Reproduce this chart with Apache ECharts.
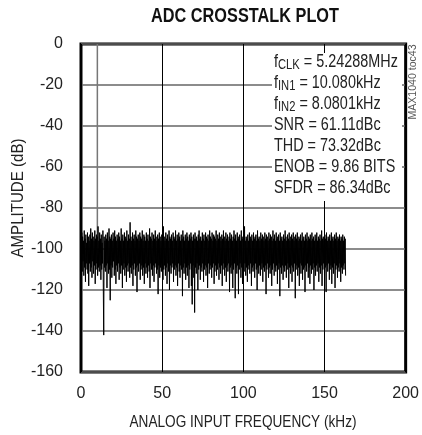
<!DOCTYPE html>
<html>
<head>
<meta charset="utf-8">
<script src="https://cdn.jsdelivr.net/npm/echarts@6/dist/echarts.min.js"></script>
<style>
html, body { margin: 0; padding: 0; background: #fff; }
#chart { width: 422px; height: 435px; }
</style>
</head>
<body>
<div id="chart"></div>
<script>
// FFT amplitude (dB), one bin every 0.25 kHz from 0 to 163 kHz
var noiseStep = 0.25;
var noiseDb = [
  -95,-108,-92,-111,-94,-106,-96,-113,-91,-109,-95,-116,-93,-107,-97,-110,-92,-112,-94,-118,
  -96,-107,-93,-111,-90,-109,-95,-114,-92,-106,-94,-112,-96,-108,-91,-117,-95,-110,-93,-107,
  -94,-113,-89,-109,-96,-111,-92,-108,-95,-115,-93,-110,-97,-107,-91,-120,-142,-94,-109,-96,
  -111,-93,-108,-95,-119,-92,-107,-96,-112,-90,-110,-94,-125,-95,-108,-93,-114,-96,-109,-92,
  -106,-95,-113,-91,-110,-94,-117,-96,-108,-93,-111,-95,-107,-92,-115,-94,-109,-96,-112,-90,
  -108,-95,-119,-93,-110,-96,-107,-92,-113,-94,-109,-95,-116,-91,-108,-96,-111,-93,-107,-95,
  -114,-87,-109,-94,-112,-96,-108,-92,-118,-95,-110,-93,-107,-96,-113,-91,-109,-94,-121,-95,
  -108,-93,-111,-96,-107,-92,-115,-94,-110,-95,-108,-91,-113,-96,-109,-93,-117,-94,-107,-96,
  -112,-92,-109,-95,-114,-93,-108,-96,-111,-90,-119,-94,-107,-95,-110,-92,-113,-96,-108,-93,
  -116,-95,-109,-91,-107,-94,-112,-96,-110,-93,-122,-95,-108,-92,-114,-94,-109,-96,-111,-93,
  -107,-95,-115,-89,-110,-94,-108,-96,-113,-92,-109,-95,-117,-93,-107,-96,-111,-91,-120,-94,
  -108,-95,-112,-93,-109,-96,-107,-92,-116,-94,-110,-95,-108,-91,-113,-96,-109,-93,-118,-95,
  -107,-92,-111,-94,-114,-96,-108,-93,-110,-95,-123,-91,-109,-94,-112,-96,-107,-93,-115,-95,
  -109,-92,-113,-94,-108,-96,-119,-93,-110,-95,-107,-92,-118,-94,-127,-96,-108,-93,-114,-95,
  -131,-92,-109,-95,-112,-94,-107,-96,-120,-93,-110,-91,-108,-95,-115,-94,-109,-96,-111,-92,
  -107,-95,-116,-93,-110,-96,-108,-92,-113,-94,-109,-95,-119,-93,-107,-96,-112,-91,-110,-94,
  -108,-95,-114,-92,-109,-96,-107,-93,-117,-94,-111,-95,-108,-91,-113,-96,-110,-93,-107,-95,
  -115,-92,-109,-94,-112,-96,-108,-93,-118,-95,-110,-91,-107,-94,-113,-96,-109,-92,-116,-95,
  -108,-93,-111,-96,-107,-94,-121,-92,-109,-95,-112,-93,-108,-96,-119,-94,-110,-91,-107,-95,
  -124,-93,-109,-96,-112,-92,-108,-95,-122,-94,-110,-93,-107,-96,-114,-91,-109,-95,-117,-94,
  -108,-92,-111,-89,-107,-96,-113,-94,-109,-95,-116,-93,-108,-96,-110,-92,-112,-94,-107,-95,
  -118,-93,-109,-96,-111,-92,-108,-95,-114,-94,-107,-93,-110,-96,-120,-91,-109,-95,-112,-94,
  -108,-96,-113,-92,-110,-95,-107,-93,-116,-94,-109,-96,-111,-92,-108,-95,-122,-93,-110,-94,
  -107,-96,-114,-92,-109,-95,-112,-93,-108,-94,-118,-96,-110,-91,-107,-95,-113,-93,-109,-96,
  -111,-92,-108,-95,-117,-94,-110,-93,-107,-96,-123,-92,-109,-95,-112,-94,-108,-96,-115,-93,
  -109,-95,-111,-91,-108,-94,-114,-96,-110,-93,-107,-95,-119,-92,-109,-96,-112,-94,-108,-93,
  -116,-95,-109,-92,-111,-96,-107,-94,-124,-93,-110,-95,-108,-92,-113,-96,-109,-94,-118,-95,
  -107,-93,-112,-96,-108,-92,-115,-95,-110,-94,-109,-96,-121,-93,-108,-95,-111,-92,-107,-96,
  -114,-94,-109,-95,-117,-93,-108,-96,-112,-92,-110,-95,-107,-94,-120,-96,-109,-93,-113,-95,
  -108,-92,-111,-96,-107,-94,-116,-95,-109,-93,-112,-96,-108,-91,-118,-95,-110,-94,-107,-96,
  -113,-93,-109,-95,-121,-92,-108,-96,-111,-94,-107,-95,-115,-93,-110,-96,-108,-92,-117,-95,
  -109,-94,-112,-96,-107,-93,-119,-95,-110,-92,-108,-96,-114,-94,-109,-95,-111,-93,-107,-96,
  -116,-94,-109,-95,-112,-93,-108,-96,-110,-94,-107,-95,-113
];
// input tone (kHz, dB)
var toneFreq = [10.08];
var toneDb = [0, -95];

var xTicks = [0, 50, 100, 150, 200];
var yTicks = [0, -20, -40, -60, -80, -100, -120, -140, -160];

var titleText = 'ADC CROSSTALK PLOT';
var xName = 'ANALOG INPUT FREQUENCY (kHz)';
var yName = 'AMPLITUDE (dB)';
var tocText = 'MAX1040 toc43';
var infoLines = [
  ['f', 'CLK', ' = 5.24288MHz'],
  ['f', 'IN1', ' = 10.080kHz'],
  ['f', 'IN2', ' = 8.0801kHz'],
  ['SNR = 61.11dBc', '', ''],
  ['THD = 73.32dBc', '', ''],
  ['ENOB = 9.86 BITS', '', ''],
  ['SFDR = 86.34dBc', '', '']
];

var FONT = "'Liberation Sans', Arial, sans-serif";

// the original lettering is a condensed face; squeeze the text to the reference widths
var measureCtx = document.createElement('canvas').getContext('2d');
function squeeze(str, font, width) {
  measureCtx.font = font;
  return width / measureCtx.measureText(str).width;
}

var noisePts = [];
for (var i = 0; i < noiseDb.length; i++) {
  noisePts.push([i * noiseStep, noiseDb[i]]);
}
var tonePts = [[toneFreq[0], toneDb[0]], [toneFreq[0], toneDb[1]]];

var infoText = [];
for (var k = 0; k < infoLines.length; k++) {
  var l = infoLines[k];
  if (l[1]) infoText.push('{n|' + l[0] + '}{s|' + l[1] + '}{n|' + l[2] + '}');
  else infoText.push('{n|' + l[0] + '}');
}

var chart = echarts.init(document.getElementById('chart'));
chart.setOption({
  animation: false,
  backgroundColor: '#fff',
  grid: {
    left: 81, right: 13, top: 44, bottom: 63,
    show: true, borderColor: '#000', borderWidth: 3, backgroundColor: 'transparent'
  },
  xAxis: {
    type: 'value', min: 0, max: 200, interval: 50,
    axisLine: { show: false }, axisTick: { show: false },
    axisLabel: {
      fontFamily: FONT, fontSize: 16, color: '#222', margin: 14,
      formatter: function (v) { return xTicks.indexOf(v) >= 0 ? String(v) : ''; }
    },
    splitLine: { show: true, lineStyle: { color: '#000', width: 1 } }
  },
  yAxis: {
    type: 'value', min: -160, max: 0, interval: 20,
    axisLine: { show: false }, axisTick: { show: false },
    axisLabel: {
      fontFamily: FONT, fontSize: 16, color: '#222', margin: 18,
      formatter: function (v) { return yTicks.indexOf(v) >= 0 ? String(v) : ''; }
    },
    splitLine: { show: true, lineStyle: { color: '#666', width: 1.5 } }
  },
  series: [
    {
      type: 'line', data: tonePts, symbol: 'none', silent: true,
      lineStyle: { color: '#777', width: 1.5 }
    },
    {
      type: 'line', data: noisePts, symbol: 'none', silent: true,
      lineStyle: { color: '#000', width: 1 }
    }
  ],
  graphic: [
    {
      type: 'text', x: 245, y: 16, z: 101,
      scaleX: squeeze(titleText, 'bold 20px ' + FONT, 188),
      style: {
        text: titleText, fontFamily: FONT, fontSize: 20, fontWeight: 'bold', fill: '#111',
        align: 'center', verticalAlign: 'middle'
      }
    },
    {
      type: 'text', x: 243, y: 422, z: 101,
      scaleX: squeeze(xName, '17px ' + FONT, 227),
      style: {
        text: xName, fontFamily: FONT, fontSize: 17, fill: '#222',
        align: 'center', verticalAlign: 'middle'
      }
    },
    {
      type: 'text', x: 18, y: 198, z: 101, rotation: Math.PI / 2,
      scaleX: squeeze(yName, '17px ' + FONT, 119),
      style: {
        text: yName, fontFamily: FONT, fontSize: 17, fill: '#222',
        align: 'center', verticalAlign: 'middle'
      }
    },
    {
      type: 'rect', left: 272, top: 53, z: 100,
      shape: { width: 130, height: 148 },
      style: { fill: '#fff' }
    },
    {
      type: 'text', x: 274, y: 52, z: 101,
      scaleX: 0.8,
      style: {
        text: infoText.join('\n'),
        rich: {
          n: { fontFamily: FONT, fontSize: 18, fill: '#222', lineHeight: 21 },
          s: { fontFamily: FONT, fontSize: 14, fill: '#222', lineHeight: 21, padding: [6, 0, 0, 0] }
        }
      }
    },
    {
      type: 'text', x: 413, y: 82, rotation: Math.PI / 2, z: 101,
      scaleX: squeeze(tocText, '10px ' + FONT, 75),
      style: {
        text: tocText, fontFamily: FONT, fontSize: 10, fill: '#555',
        align: 'center', verticalAlign: 'middle'
      }
    }
  ]
});
</script>
</body>
</html>
